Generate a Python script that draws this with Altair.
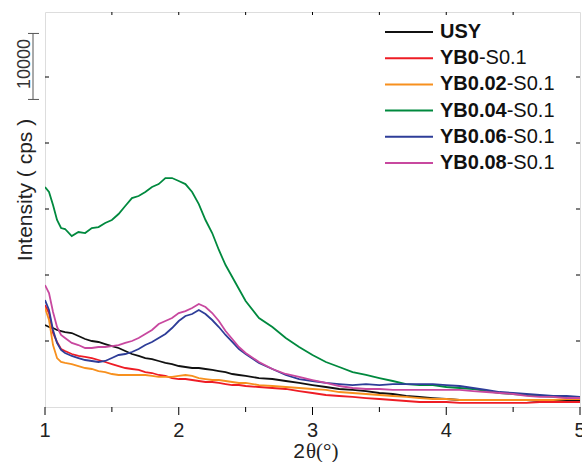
import altair as alt
import pandas as pd

# 2-theta grid (degrees)
two_theta = [1.00, 1.03, 1.06, 1.09, 1.12, 1.15, 1.20, 1.25, 1.30, 1.35,
             1.40, 1.45, 1.50, 1.55, 1.60, 1.65, 1.70, 1.75, 1.80, 1.85,
             1.90, 1.95, 2.00, 2.05, 2.10, 2.15, 2.20, 2.25, 2.30, 2.35,
             2.40, 2.45, 2.50, 2.6, 2.7, 2.8, 2.9, 3.0, 3.1, 3.2,
             3.3, 3.4, 3.5, 3.6, 3.7, 3.8, 3.9, 4.0, 4.1, 4.2,
             4.3, 4.4, 4.5, 4.6, 4.7, 4.8, 4.9, 5.0]

# Intensities (cps)
usy = [12420, 12120, 11970, 11670, 11510, 11360, 11210, 10760, 10300, 10000,
       9850, 9540, 9240, 8940, 8480, 8030, 7730, 7420, 7270, 6970,
       6670, 6510, 6210, 6060, 5910, 5910, 5760, 5610, 5450, 5300,
       5000, 4850, 4700, 4390, 4240, 3940, 3640, 3330, 3030, 2730,
       2580, 2420, 2120, 1970, 1670, 1520, 1360, 1210, 1060, 1060,
       1060, 1060, 1060, 1060, 910, 910, 910, 910]
yb0 = [15450, 14240, 11210, 9850, 8790, 8480, 8030, 7730, 7580, 7420,
       7120, 6820, 6510, 6210, 5910, 5760, 5610, 5300, 5150, 4850,
       4700, 4390, 4240, 4240, 4090, 3940, 3790, 3790, 3640, 3480,
       3330, 3330, 3180, 3030, 2880, 2730, 2420, 2120, 1820, 1670,
       1520, 1360, 1210, 1060, 910, 760, 760, 760, 610, 610,
       610, 610, 610, 610, 760, 760, 760, 760]
yb002 = [15000, 13180, 9390, 7420, 6820, 6670, 6510, 6210, 5910, 5760,
         5450, 5300, 5000, 4850, 4850, 4850, 4850, 4850, 4700, 4550,
         4550, 4550, 4700, 4850, 4700, 4390, 4240, 4090, 4090, 3940,
         3790, 3640, 3640, 3330, 3180, 3030, 2880, 2730, 2580, 2270,
         2120, 1970, 1820, 1670, 1520, 1360, 1210, 1210, 1060, 1060,
         1060, 1060, 1060, 1060, 1060, 1060, 1210, 1210]
yb004 = [33330, 32570, 30600, 28330, 27120, 26970, 25910, 26510, 26360, 27120,
         27270, 27880, 28330, 29240, 30450, 31660, 31970, 32570, 33330, 33780,
         34690, 34690, 34240, 33780, 32570, 30750, 28330, 26360, 23790, 21510,
         19700, 17880, 16060, 13480, 12120, 10450, 9090, 7880, 6820, 6060,
         5300, 4850, 4390, 3940, 3480, 3330, 3330, 3030, 2880, 2730,
         2420, 2120, 1970, 1820, 1670, 1520, 1520, 1360]
yb006 = [16210, 14700, 11670, 9700, 8640, 8180, 7730, 7420, 7120, 6970,
         6820, 6970, 7420, 7880, 8030, 8330, 8790, 9390, 9850, 10450,
         11060, 11970, 13030, 13790, 14090, 14700, 14090, 13180, 12120, 10910,
         9850, 8790, 8030, 6670, 5760, 4850, 4240, 3940, 3640, 3480,
         3330, 3480, 3330, 3480, 3480, 3480, 3480, 3330, 3180, 2880,
         2580, 2270, 2120, 1970, 1820, 1670, 1670, 1520]
yb008 = [18480, 17270, 14390, 12120, 10910, 10450, 9700, 9390, 8940, 8940,
         9090, 9090, 9240, 9390, 9700, 10000, 10450, 11060, 11670, 12570,
         13030, 13480, 14240, 14540, 15000, 15600, 15150, 14240, 13030, 11510,
         10300, 9090, 8180, 6820, 5760, 5000, 4550, 4090, 3640, 3180,
         2880, 2730, 2730, 2580, 2580, 2580, 2580, 2580, 2580, 2420,
         2270, 2120, 1970, 1670, 1520, 1520, 1360, 1360]

series_names = ["USY", "YB0-S0.1", "YB0.02-S0.1", "YB0.04-S0.1", "YB0.06-S0.1", "YB0.08-S0.1"]
bold_parts = ["USY", "YB0", "YB0.02", "YB0.04", "YB0.06", "YB0.08"]
suffix_parts = ["", "-S0.1", "-S0.1", "-S0.1", "-S0.1", "-S0.1"]
series_values = [usy, yb0, yb002, yb004, yb006, yb008]
colors = ["#111111", "#EE1C25", "#F7901E", "#00893E", "#2E3D98", "#C8489F"]

y_ticks = [10000, 20000, 30000, 40000, 50000]
x_major = [1, 2, 3, 4, 5]
x_minor = [1.5, 2.5, 3.5, 4.5]
x_top_ticks = [1.5, 2, 2.5, 3, 3.5, 4, 4.5]
scale_bar = [46600, 56600]  # 10000 cps

rows = []
for name, vals in zip(series_names, series_values):
    assert len(vals) == len(two_theta), name
    for t, v in zip(two_theta, vals):
        rows.append({"two_theta": t, "intensity": v, "series": name})
df = pd.DataFrame(rows)

FONT = "Liberation Sans"
LEG_FS = 20
bold_w = {"Y": 0.667, "B": 0.722, "0": 0.556, ".": 0.278, "2": 0.556, "4": 0.556,
          "6": 0.556, "8": 0.556, "U": 0.722, "S": 0.667}
leg = pd.DataFrame({
    "series": series_names,
    "bold": bold_parts,
    "suffix": suffix_parts,
    "ly": [20 + 26.2 * i for i in range(len(series_names))],
    "sx": [395 + sum(bold_w[c] for c in b) * LEG_FS for b in bold_parts],
})

W, H = 535, 395
xscale = alt.Scale(domain=[1, 5], nice=False, zero=False)
yscale = alt.Scale(domain=[0, 59850], nice=False, zero=True)
cscale = alt.Scale(domain=series_names, range=colors)

lines = alt.Chart(df).mark_line(strokeWidth=1.8, clip=True).encode(
    x=alt.X("two_theta:Q", scale=xscale, axis=None),
    y=alt.Y("intensity:Q", scale=yscale, axis=None),
    color=alt.Color("series:N", scale=cscale, legend=None),
)

left_ticks = alt.Chart(pd.DataFrame({"v": y_ticks})).mark_rule(color="black").encode(
    y=alt.Y("v:Q", scale=yscale, axis=None), x=alt.value(0), x2=alt.value(4))
right_ticks = alt.Chart(pd.DataFrame({"v": y_ticks})).mark_rule(color="black").encode(
    y=alt.Y("v:Q", scale=yscale, axis=None), x=alt.value(W - 4), x2=alt.value(W))
top_ticks = alt.Chart(pd.DataFrame({"v": x_top_ticks})).mark_rule(color="black").encode(
    x=alt.X("v:Q", scale=xscale, axis=None), y=alt.value(0), y2=alt.value(3))
bottom_major = alt.Chart(pd.DataFrame({"v": x_major})).mark_rule(color="black").encode(
    x=alt.X("v:Q", scale=xscale, axis=None), y=alt.value(H), y2=alt.value(H + 8))
bottom_minor = alt.Chart(pd.DataFrame({"v": x_minor})).mark_rule(color="black").encode(
    x=alt.X("v:Q", scale=xscale, axis=None), y=alt.value(H), y2=alt.value(H + 5))
x_labels = alt.Chart(pd.DataFrame({"v": x_major})).mark_text(
    fontSize=20, font=FONT, align="center", baseline="alphabetic", color="#222222"
).encode(x=alt.X("v:Q", scale=xscale, axis=None), y=alt.value(H + 30), text=alt.Text("v:Q", format="d"))

bar_df = pd.DataFrame({"lo": [scale_bar[0]], "hi": [scale_bar[1]]})
bar = alt.Chart(bar_df).mark_rule(color="#555555", strokeWidth=1).encode(
    y=alt.Y("lo:Q", scale=yscale, axis=None), y2="hi:Q", x=alt.value(-12))
caps = alt.Chart(pd.DataFrame({"v": scale_bar})).mark_rule(color="#555555", strokeWidth=1).encode(
    y=alt.Y("v:Q", scale=yscale, axis=None), x=alt.value(-17), x2=alt.value(-6))
bar_label = alt.Chart(pd.DataFrame({"t": ["10000"]})).mark_text(
    angle=270, fontSize=18, font=FONT, align="center", baseline="alphabetic", color="#333333"
).encode(text="t:N", x=alt.value(-15), y=alt.value(52))

ytitle = alt.Chart(pd.DataFrame({"t": ["Intensity ( cps )"]})).mark_text(
    angle=270, fontSize=21, font=FONT, align="center", baseline="alphabetic", color="#222222"
).encode(text="t:N", x=alt.value(-13), y=alt.value(178))

xt1 = alt.Chart(pd.DataFrame({"t": ["2"]})).mark_text(
    fontSize=21, font=FONT, align="right", baseline="alphabetic", color="#222222"
).encode(text="t:N", x=alt.value(260), y=alt.value(446))
xt2 = alt.Chart(pd.DataFrame({"t": ["θ(°)"]})).mark_text(
    fontSize=21, font="Liberation Serif", align="left", baseline="alphabetic", color="#222222"
).encode(text="t:N", x=alt.value(261), y=alt.value(446))

leg_lines = alt.Chart(leg).mark_rule(strokeWidth=2).encode(
    x=alt.value(340), x2=alt.value(388),
    y=alt.Y("ly:Q", scale=None, axis=None),
    color=alt.Color("series:N", scale=cscale, legend=None))
leg_bold = alt.Chart(leg).mark_text(
    align="left", baseline="middle", fontSize=LEG_FS, fontWeight="bold", font=FONT, color="#111111"
).encode(x=alt.value(395), y=alt.Y("ly:Q", scale=None, axis=None), text="bold:N")
leg_suffix = alt.Chart(leg).mark_text(
    align="left", baseline="middle", fontSize=LEG_FS, font=FONT, color="#111111"
).encode(x=alt.X("sx:Q", scale=None, axis=None), y=alt.Y("ly:Q", scale=None, axis=None), text="suffix:N")

chart = alt.layer(
    lines, left_ticks, right_ticks, top_ticks, bottom_major, bottom_minor, x_labels,
    bar, caps, bar_label, ytitle, xt1, xt2,
    leg_lines, leg_bold, leg_suffix
).properties(
    width=W, height=H,
    padding={"left": 45, "top": 12, "right": 2, "bottom": 55},
    autosize=alt.AutoSizeParams(type="none"),
).configure_view(stroke="black", strokeWidth=1.2).configure(background="white")

chart.save("out.html", embed_options={"renderer": "svg", "actions": False})
